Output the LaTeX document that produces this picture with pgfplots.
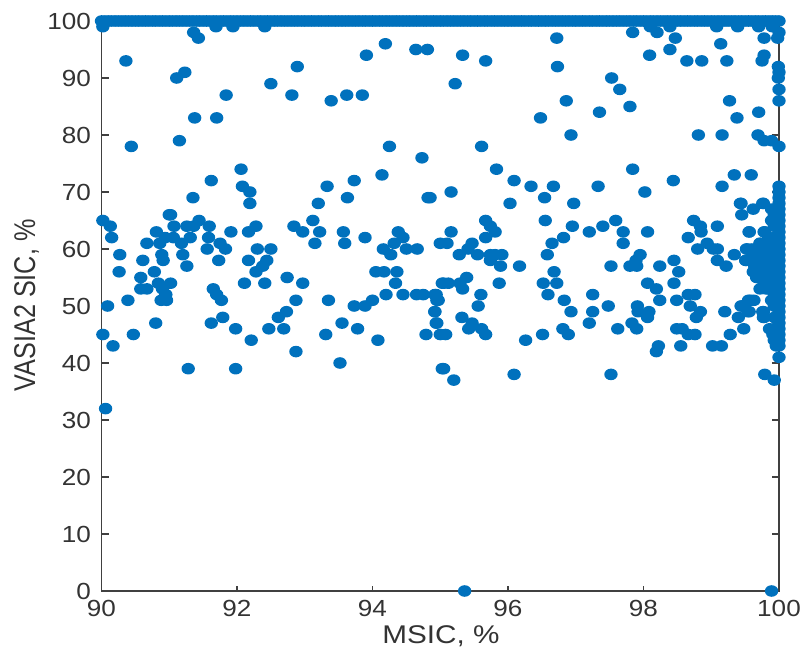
\documentclass[border=0pt]{standalone}
\usepackage{pgfplots}
\pgfplotsset{compat=1.18}
\usepackage{fontspec}
\setmainfont[FakeStretch=1.12]{Liberation Sans}
\newfontfamily\xlabfont[FakeStretch=1.16]{Liberation Sans}
\newfontfamily\ylabfont[FakeStretch=0.84]{Liberation Sans}
\definecolor{dotblue}{RGB}{0,113,189}
\definecolor{axgray}{RGB}{64,64,64}
\definecolor{txt}{RGB}{51,51,51}
\pgfdeclareplotmark{ell}{\pgfpathellipse{\pgfpointorigin}{\pgfqpoint{6.7pt}{0pt}}{\pgfqpoint{0pt}{5.8pt}}\pgfusepathqfill}
\pgfplotstableread{
x y
90.0 100
90.05 100
90.1 100
90.15 100
90.2 100
90.25 100
90.3 100
90.35 100
90.4 100
90.45 100
90.5 100
90.55 100
90.6 100
90.65 100
90.7 100
90.75 100
90.8 100
90.85 100
90.9 100
90.95 100
91.0 100
91.05 100
91.1 100
91.15 100
91.2 100
91.25 100
91.3 100
91.35 100
91.4 100
91.45 100
91.5 100
91.55 100
91.6 100
91.65 100
91.7 100
91.75 100
91.8 100
91.85 100
91.9 100
91.95 100
92.0 100
92.05 100
92.1 100
92.15 100
92.2 100
92.25 100
92.3 100
92.35 100
92.4 100
92.45 100
92.5 100
92.55 100
92.6 100
92.65 100
92.7 100
92.75 100
92.8 100
92.85 100
92.9 100
92.95 100
93.0 100
93.05 100
93.1 100
93.15 100
93.2 100
93.25 100
93.3 100
93.35 100
93.4 100
93.45 100
93.5 100
93.55 100
93.6 100
93.65 100
93.7 100
93.75 100
93.8 100
93.85 100
93.9 100
93.95 100
94.0 100
94.05 100
94.1 100
94.15 100
94.2 100
94.25 100
94.3 100
94.35 100
94.4 100
94.45 100
94.5 100
94.55 100
94.6 100
94.65 100
94.7 100
94.75 100
94.8 100
94.85 100
94.9 100
94.95 100
95.0 100
95.05 100
95.1 100
95.15 100
95.2 100
95.25 100
95.3 100
95.35 100
95.4 100
95.45 100
95.5 100
95.55 100
95.6 100
95.65 100
95.7 100
95.75 100
95.8 100
95.85 100
95.9 100
95.95 100
96.0 100
96.05 100
96.1 100
96.15 100
96.2 100
96.25 100
96.3 100
96.35 100
96.4 100
96.45 100
96.5 100
96.55 100
96.6 100
96.65 100
96.7 100
96.75 100
96.8 100
96.85 100
96.9 100
96.95 100
97.0 100
97.05 100
97.1 100
97.15 100
97.2 100
97.25 100
97.3 100
97.35 100
97.4 100
97.45 100
97.5 100
97.55 100
97.6 100
97.65 100
97.7 100
97.75 100
97.8 100
97.85 100
97.9 100
97.95 100
98.0 100
98.05 100
98.1 100
98.15 100
98.2 100
98.25 100
98.3 100
98.35 100
98.4 100
98.45 100
98.5 100
98.55 100
98.6 100
98.65 100
98.7 100
98.75 100
98.8 100
98.85 100
98.9 100
98.95 100
99.0 100
99.05 100
99.1 100
99.15 100
99.2 100
99.25 100
99.3 100
99.35 100
99.4 100
99.45 100
99.5 100
99.55 100
99.6 100
99.65 100
99.7 100
99.75 100
99.8 100
99.85 100
99.9 100
99.95 100
100 100
90.02 99
91.69 99
91.94 99
92.41 99
91.36 98
91.43 97
90.36 93
91.23 91
91.11 90
92.89 92
92.5 89
92.81 87
91.84 87
93.39 86
93.62 87
93.85 87
93.91 94
94.19 96
94.64 95
94.81 95
91.375 83
91.7 83
91.15 79
90.44 78
94.25 78
94.73 76
94.14 73
92.06 74
92.08 71
92.19 70
92.19 68
91.62 72
91.35 69
93.2 68
93.33 71
93.63 69
93.73 72
94.82 69
91.0 66
95.33 94
95.67 93
95.22 89
96.72 97
96.73 92
96.48 83
96.86 86
96.93 80
97.35 84
97.53 90
97.65 88
97.8 85
97.84 98
98.2 98
98.47 97
98.09 94
98.39 95
98.64 93
98.86 93
99.23 93
99.14 96
98.1 99
98.39 99
99.08 99
99.39 99
99.7 99
99.78 97
99.98 97
99.9 99
100 98
99.78 94
99.75 93
99.99 92
100 91
99.99 90
100 88
100 86
99.27 86
99.38 83
99.7 84
98.81 80
99.16 80
99.69 80
99.78 79
99.89 79
100 78
95.61 78
95.83 74
96.09 72
96.34 71
96.67 71
96.54 69
96.03 68
96.97 68
95.16 70
94.85 69
97.33 71
98.02 70
97.84 74
98.44 72
99.34 73
99.59 73
99.16 71
100 71
100 69
99.44 68
99.77 68
90.02 65
90.13 64
90.15 62
90.27 59
90.26 56
90.39 51
90.09 50
90.02 45
90.17 43
90.47 45
90.06 32
91.02 66
90.81 63
91.07 64
90.67 61
90.86 61
90.94 62
91.06 62
91.18 61
91.31 62
91.26 64
91.36 64
91.44 65
91.59 64
91.58 62
91.56 60
91.75 61
91.83 60
91.91 63
91.73 58
90.89 59
90.91 58
90.61 58
91.2 59
91.26 57
90.78 56
90.58 55
90.84 54
91.02 54
90.58 53
90.67 53
90.9 53
90.95 52
90.88 51
90.96 51
90.8 47
91.28 39
91.98 39
91.65 53
91.7 52
91.77 51
91.79 48
91.62 47
91.98 46
92.21 44
92.11 54
92.41 54
92.28 56
92.38 57
92.44 58
92.17 58
92.3 60
92.5 60
92.17 63
92.28 64
92.74 55
92.97 54
92.87 51
92.73 49
92.61 48
92.69 46
92.47 46
92.87 42
93.52 40
93.35 51
93.31 45
93.55 47
93.78 46
94.08 44
94.79 45
92.84 64
92.97 63
93.12 65
93.22 63
93.15 61
93.57 63
93.59 61
93.89 62
93.73 50
93.89 50
94.0 51
94.2 52
94.45 52
94.65 52
94.75 52
94.94 52
94.95 51
94.92 49
94.94 47
95.0 45
95.03 39
94.05 56
94.17 56
94.36 56
94.34 54
94.16 60
94.27 59
94.32 61
94.38 63
94.45 62
94.5 60
94.66 60
95.0 61
95.03 54
95.67 65
95.74 64
95.81 63
95.67 62
95.16 63
95.1 61
95.47 61
95.41 60
95.28 59
95.55 59
95.74 59
95.81 59
95.91 59
95.74 58
95.89 57
96.17 57
96.55 65
96.95 64
96.82 62
96.65 61
96.58 59
96.68 56
96.52 54
96.72 54
96.59 52
96.83 51
96.93 49
97.25 52
97.48 50
97.25 49
97.2 47
97.62 46
97.83 47
97.9 46
96.81 46
96.89 45
96.51 45
96.26 44
96.09 38
95.05 39
95.2 37
97.52 38
97.2 63
97.4 64
97.59 65
97.7 63
97.7 61
98.06 63
97.95 59
97.89 58
97.8 57
97.9 57
97.52 57
98.24 57
98.45 58
98.52 56
98.45 54
98.06 54
98.19 53
98.24 51
98.49 51
97.91 50
97.92 49
98.08 49
98.06 48
98.22 43
98.19 42
98.55 43
98.49 46
98.57 46
98.66 45
98.76 45
99.02 43
99.15 43
99.28 45
99.48 46
98.66 52
98.76 52
98.69 50
98.84 49
98.78 48
99.2 49
99.4 48
99.44 50
99.55 51
99.63 51
99.56 49
99.77 49
99.78 48
99.79 38
99.93 37
100 41
98.74 65
98.84 64
98.85 63
98.66 62
99.09 64
98.94 61
98.8 60
99.09 60
99.03 60
99.09 58
99.22 57
99.34 59
99.56 63
99.78 63
99.72 61
99.53 60
99.51 58
99.62 59
94.92 52
94.97 51
94.92 49
94.95 47
95.08 45
95.05 54
95.12 54
95.29 54
95.39 55
95.33 53
95.6 52
95.56 50
95.87 54
95.32 48
95.47 47
95.42 46
95.61 46
95.67 45
99.43 68
99.45 66
99.62 67
99.76 68
99.89 67
99.89 65
99.56 63
99.79 63
99.72 61
99.52 60
99.66 60
99.51 58
99.62 59
99.64 57
99.62 56
99.67 55
99.72 53
99.81 53
99.58 51
99.45 50
99.54 49
99.76 49
99.77 48
99.89 51
99.86 46
99.91 45
99.96 43
100 43
100 44
100 45
100 46
100 47
100 48
100 49
100 50
100 51
100 52
100 53
100 54
100 55
100 56
100 57
100 58
100 59
100 60
100 61
100 62
100 63
100 64
100 65
100 66
100 67
100 68
100 70
99.93 44
99.93 46
99.93 48
99.93 50
99.93 52
99.93 54
99.93 56
99.93 58
99.93 60
99.93 62
99.93 64
99.93 66
99.85 53
99.85 54
99.85 55
99.85 56
99.85 57
99.85 58
99.85 59
99.85 60
99.85 61
99.85 62
99.78 54
99.78 55
99.78 56
99.78 57
99.78 58
99.78 59
99.78 60
99.7 55
99.7 56
99.7 57
99.7 58
99.7 59
99.7 60
99.6 60
99.65 58
95.36 0
99.89 0
}\datatable
\begin{document}
\begin{tikzpicture}[x=1pt,y=1pt]
\useasboundingbox (-101.5,-63) rectangle (705.5,591);
\begin{axis}[
  at={(0,0)},anchor=origin,
  scale only axis,width=677.5pt,height=570pt,
  xmin=90,xmax=100,ymin=0,ymax=100,
  xtick={90,92,94,96,98,100},
  ytick={0,10,...,100},
  clip=false,
  axis line style={axgray,line width=1.6pt},
  x tick style={axgray,line width=1.1pt,/pgfplots/major tick length=5.5pt},
  y tick style={axgray,line width=1.1pt,/pgfplots/major tick length=7.5pt},
  tick align=inside,
  tick pos=both,
  /pgf/number format/assume math mode=true,
  ticklabel style={font=\fontsize{23.3}{25}\selectfont,text=txt,inner sep=0pt},
  xticklabel style={anchor=north,yshift=-9pt},
  yticklabel style={anchor=east,xshift=-10.5pt},
]
\addplot[only marks,mark=ell,color=dotblue] table[x=x,y=y] {\datatable};
\node[font=\xlabfont\fontsize{25.6}{27}\selectfont,text=txt,anchor=base] at (axis description cs:0.501,-0.0918) {MSIC, \%};
\node[font=\ylabfont\fontsize{30}{32}\selectfont,text=txt,anchor=base,rotate=90] at (axis description cs:-0.098,0.501) {VASIA2 SIC, \%};
\end{axis}
\end{tikzpicture}
\end{document}
